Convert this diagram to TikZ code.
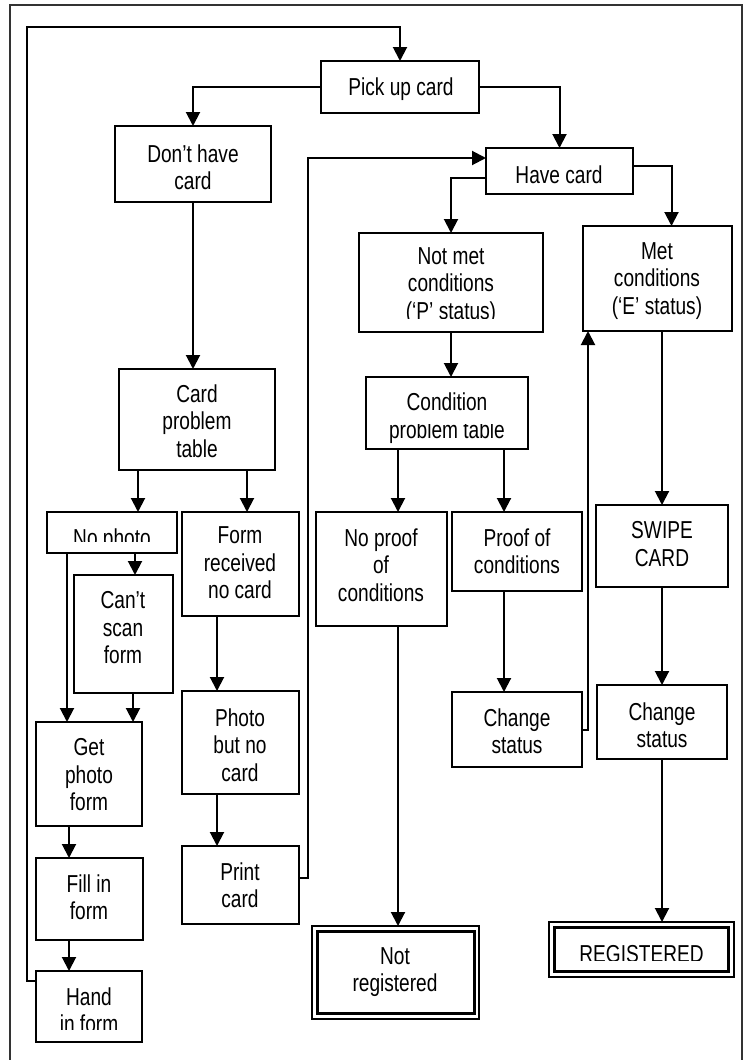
\documentclass[tikz,border=0pt]{standalone}
\usepackage{fontspec}
\setmainfont{Liberation Sans}[FakeStretch=0.78]
\usetikzlibrary{arrows.meta}
\newcommand\mkbox[5]{\node[bx, minimum width={#4pt-#2pt}, minimum height={#5pt-#3pt}] (#1) at ({(#2+#4)/2},{(#3+#5)/2}) {};}
\newcommand\mktext[4]{\node[tx] (#1) at (#2,#3) {#4};}
\begin{document}
\begin{tikzpicture}[x=1pt,y=-1pt,
  bx/.style={draw, line width=2.4pt, inner sep=0pt, outer sep=0pt},
  tx/.style={font=\fontsize{24.5}{27.5}\selectfont, align=center, inner sep=0pt},
  arr/.style={line width=2pt, -{Triangle[length=14pt,width=14pt]}},
  frame/.style={line width=1.5pt, draw=black!80}]
\useasboundingbox (0,0) rectangle (749,1060);
\draw[frame] (10,1060) -- (10,5) -- (742,5) -- (742,1060);
% boxes
\mkbox{pick}{321}{61}{479}{113}
\mkbox{dont}{115}{126}{271}{202}
\mkbox{have}{486}{148}{633}{194}
\mkbox{notmet}{359}{233}{543}{332}
\mkbox{met}{583}{226}{732}{331}
\mkbox{cpt}{119}{369}{275}{470}
\mkbox{cond}{366}{377}{528}{449}
\mkbox{nophoto}{47}{512}{177}{553}
\mkbox{form}{182}{512}{299}{616}
\mkbox{noproof}{316}{512}{447}{626}
\mkbox{proof}{452}{512}{582}{591}
\mkbox{swipe}{596}{505}{728}{587}
\mkbox{scan}{74}{575}{173}{693}
\mkbox{getphoto}{36}{722}{142}{826}
\mkbox{photo}{182}{691}{299}{794}
\mkbox{chgA}{452}{692}{582}{767}
\mkbox{chgB}{597}{685}{727}{759}
\mkbox{fill}{36}{858}{143}{940}
\mkbox{print}{182}{846}{299}{924}
\mkbox{hand}{36}{971}{142}{1042}
\node[draw, line width=2pt, inner sep=0pt, outer sep=0pt, minimum width=167pt, minimum height=93pt] (notreg) at (395.5,972.5) {};
\node[draw, line width=3pt, inner sep=0pt, outer sep=0pt, minimum width=157pt, minimum height=82pt] (notregin) at (notreg.center) {};
\node[draw, line width=2pt, inner sep=0pt, outer sep=0pt, minimum width=185pt, minimum height=55pt] (reg) at (641.5,949.5) {};
\node[draw, line width=3pt, inner sep=0pt, outer sep=0pt, minimum width=174pt, minimum height=44pt] (regin) at (reg.center) {};
% texts
\mktext{tpick}{401}{89}{Pick up card}
\mktext{tdont}{193}{167}{Don’t have\\card}
\mktext{thave}{559}{175}{Have card}
\mktext{tcpt}{197}{421}{Card\\problem\\table}
\mktext{tform}{240}{563}{Form\\received\\no card}
\mktext{tscan}{123}{628}{Can’t\\scan\\form}
\mktext{tget}{89}{775}{Get\\photo\\form}
\mktext{tfill}{89}{897}{Fill in\\form}
\mktext{tphoto}{240}{745}{Photo\\but no\\card}
\mktext{tprint}{240}{885}{Print\\card}
\mktext{tmet}{657}{281}{Met\\conditions\\(‘E’ status)}
\mktext{tnoproof}{381}{565}{No proof\\of\\conditions}
\mktext{tproof}{517}{551}{Proof of\\conditions}
\mktext{tswipe}{662}{544}{SWIPE\\CARD}
\mktext{tchgA}{517}{731}{Change\\status}
\mktext{tchgB}{662}{725}{Change\\status}
\mktext{tnotreg}{395}{972}{Not\\registered}
\node[tx, anchor=base] (tcondA) at (447,410) {Condition};
\begin{scope}
\clip (368,424) rectangle (526,447);
\node[tx, anchor=base] (tcondB) at (447,438) {problem table};
\end{scope}
\begin{scope}
\clip (49,514) rectangle (175,541);
\node[tx, anchor=base] (tnophoto) at (112,546) {No photo};
\end{scope}
\begin{scope}
\clip (38,973) rectangle (140,1029);
\mktext{thand}{89}{1010}{Hand\\in form}
\end{scope}
\begin{scope}
\clip (361,235) rectangle (541,318);
\mktext{tnotmet}{451}{286}{Not met\\conditions\\(‘P’ status)}
\end{scope}
\begin{scope}
\clip (557,930) rectangle (727,960);
\node[tx, anchor=base] (treg) at (641.5,962) {REGISTERED};
\end{scope}
% connectors
\draw[arr] ([yshift=26pt]hand.west) -- ++(-9,0) |- ([yshift=34pt]pick.north) -- (pick.north);
\draw[arr] (pick.west) -| (dont.north);
\draw[arr] (pick.east) -| (have.north);
\draw[arr] (dont.south) -- (dont.south |- cpt.north);
\draw[arr] ([yshift=-7pt]have.west) -| (notmet.north);
\draw[arr] ([yshift=5pt]have.east) -| ([xshift=14pt]met.north);
\draw[arr] (notmet.south) -- ([xshift=4pt]cond.north);
\draw[arr] ([xshift=-59pt]cpt.south) -- ([xshift=-59pt]cpt.south |- nophoto.north);
\draw[arr] ([xshift=50pt]cpt.south) -- ([xshift=50pt]cpt.south |- form.north);
\draw[arr] ([xshift=23pt]nophoto.south) -- ([xshift=11.5pt]scan.north);
\draw[arr] ([xshift=-45pt]nophoto.south) -- ([xshift=-22pt]getphoto.north);
\draw[arr] ([xshift=9.5pt]scan.south) -- ([xshift=44pt]getphoto.north);
\draw[arr] ([xshift=-20pt]getphoto.south) -- ([xshift=-20.5pt]fill.north);
\draw[arr] ([xshift=-20.5pt]fill.south) -- ([xshift=-20pt]hand.north);
\draw[arr] ([xshift=-23.5pt]form.south) -- ([xshift=-23.5pt]photo.north);
\draw[arr] ([xshift=-23.5pt]photo.south) -- ([xshift=-23.5pt]print.north);
\draw[arr] ([yshift=7pt]print.east) -- ++(9,0) |- ([yshift=13pt]have.west);
\draw[arr] ([xshift=-49pt]cond.south) -- ([xshift=-49pt]cond.south |- noproof.north);
\draw[arr] ([xshift=57pt]cond.south) -- ([xshift=57pt]cond.south |- proof.north);
\draw[arr] ([xshift=16.5pt]noproof.south) -- ([xshift=2.5pt]notreg.north);
\draw[arr] ([xshift=-13pt]proof.south) -- ([xshift=-13pt]chgA.north);
\draw[arr] (chgA.east) -| ([xshift=5pt]met.south west);
\draw[arr] ([xshift=4.5pt]met.south) -- (swipe.north);
\draw[arr] (swipe.south) -- (chgB.north);
\draw[arr] (chgB.south) -- ([xshift=20.5pt]reg.north);
\end{tikzpicture}
\end{document}
